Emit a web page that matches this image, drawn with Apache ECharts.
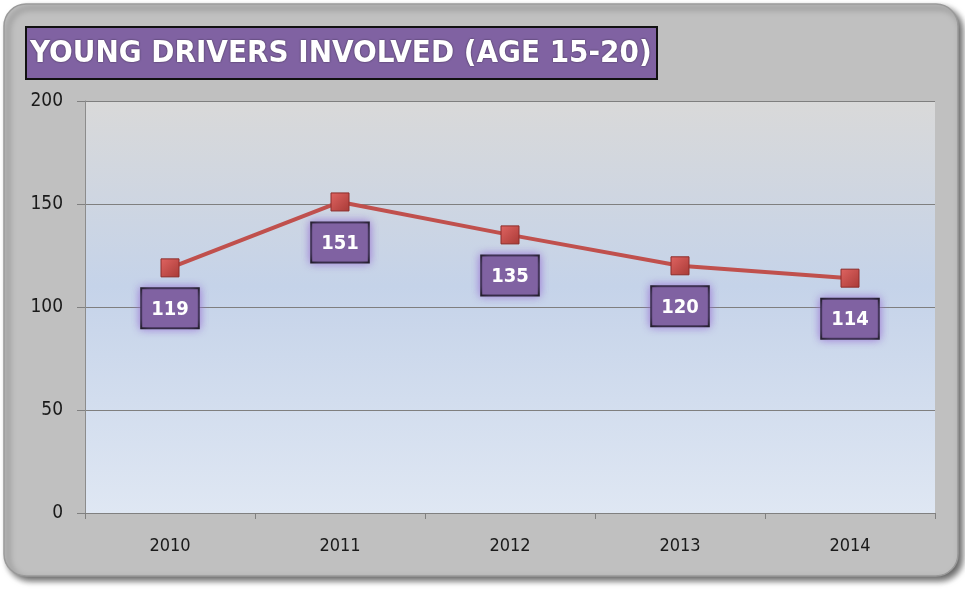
<!DOCTYPE html>
<html>
<head>
<meta charset="utf-8">
<script src="https://cdn.jsdelivr.net/npm/echarts@6/dist/echarts.min.js"></script>
<style>
  html, body { margin: 0; padding: 0; background: #ffffff; }
  #main { width: 965px; height: 592px; }
</style>
</head>
<body>
<div id="main"></div>
<script>
// data
const years = ['2010', '2011', '2012', '2013', '2014']
const drivers = [119, 151, 135, 120, 114]

const chart = echarts.init(document.getElementById('main'))

const narrow = '"DejaVu Sans Condensed", "Liberation Sans Narrow", sans-serif'

const option = {
  animation: false,
  // outer rounded gray panel
  graphic: [
    {
      type: 'rect',
      z: -10,
      shape: { x: 4, y: 4, width: 954, height: 572, r: 22 },
      style: {
        fill: '#c0c0c0',
        stroke: '#9a9a9a',
        lineWidth: 1.5,
        shadowBlur: 6,
        shadowOffsetX: 4,
        shadowOffsetY: 4,
        shadowColor: 'rgba(0,0,0,0.6)'
      }
    }
  ],
  title: {
    text: 'YOUNG DRIVERS INVOLVED (AGE 15-20)',
    left: 26,
    top: 27,
    padding: [11, 6, 10, 4],
    backgroundColor: '#8062a2',
    borderColor: '#111111',
    borderWidth: 2,
    textStyle: {
      color: '#ffffff',
      fontFamily: narrow,
      fontSize: 31,
      fontWeight: 'bold',
      textShadowColor: 'rgba(0,0,0,0.6)',
      textShadowBlur: 2
    }
  },
  grid: {
    left: 85,
    right: 30,
    top: 101,
    bottom: 79,
    show: true,
    borderWidth: 0,
    backgroundColor: {
      type: 'linear', x: 0, y: 0, x2: 0, y2: 1,
      colorStops: [
        { offset: 0, color: '#d9d9d9' },
        { offset: 0.45, color: '#c5d3e9' },
        { offset: 1, color: '#dfe7f3' }
      ]
    }
  },
  xAxis: {
    type: 'category',
    data: years,
    boundaryGap: true,
    axisLine: { show: true, lineStyle: { color: '#808080', width: 1 } },
    axisTick: { show: true, length: 6, lineStyle: { color: '#808080' } },
    axisLabel: {
      color: '#1a1a1a',
      fontSize: 18,
      margin: 24,
      fontFamily: narrow
    }
  },
  yAxis: {
    type: 'value',
    min: 0,
    max: 200,
    interval: 50,
    axisLine: { show: true, lineStyle: { color: '#8c8c8c' } },
    axisTick: { show: true, length: 8, lineStyle: { color: '#808080' } },
    axisLabel: {
      color: '#1a1a1a',
      fontSize: 19,
      margin: 22,
      fontFamily: narrow
    },
    splitLine: { show: true, lineStyle: { color: '#7f7f7f', width: 1 } }
  },
  series: [
    {
      name: 'Young drivers',
      type: 'line',
      data: drivers,
      symbol: 'rect',
      symbolSize: 18,
      lineStyle: { color: '#c0504d', width: 4 },
      itemStyle: {
        color: {
          type: 'linear', x: 0, y: 0, x2: 1, y2: 1,
          colorStops: [
            { offset: 0, color: '#e06461' },
            { offset: 1, color: '#a83a37' }
          ]
        },
        borderColor: '#8c2d2a',
        borderWidth: 1
      },
      label: {
        show: true,
        position: 'bottom',
        distance: 12,
        color: '#ffffff',
        fontSize: 20,
        fontWeight: 'bold',
        fontFamily: narrow,
        backgroundColor: '#8062a2',
        borderColor: '#111111',
        borderWidth: 2,
        padding: [10, 9, 8, 9],
        shadowColor: 'rgba(150,110,210,0.85)',
        shadowBlur: 9
      }
    }
  ]
}

chart.setOption(option)
</script>
</body>
</html>
